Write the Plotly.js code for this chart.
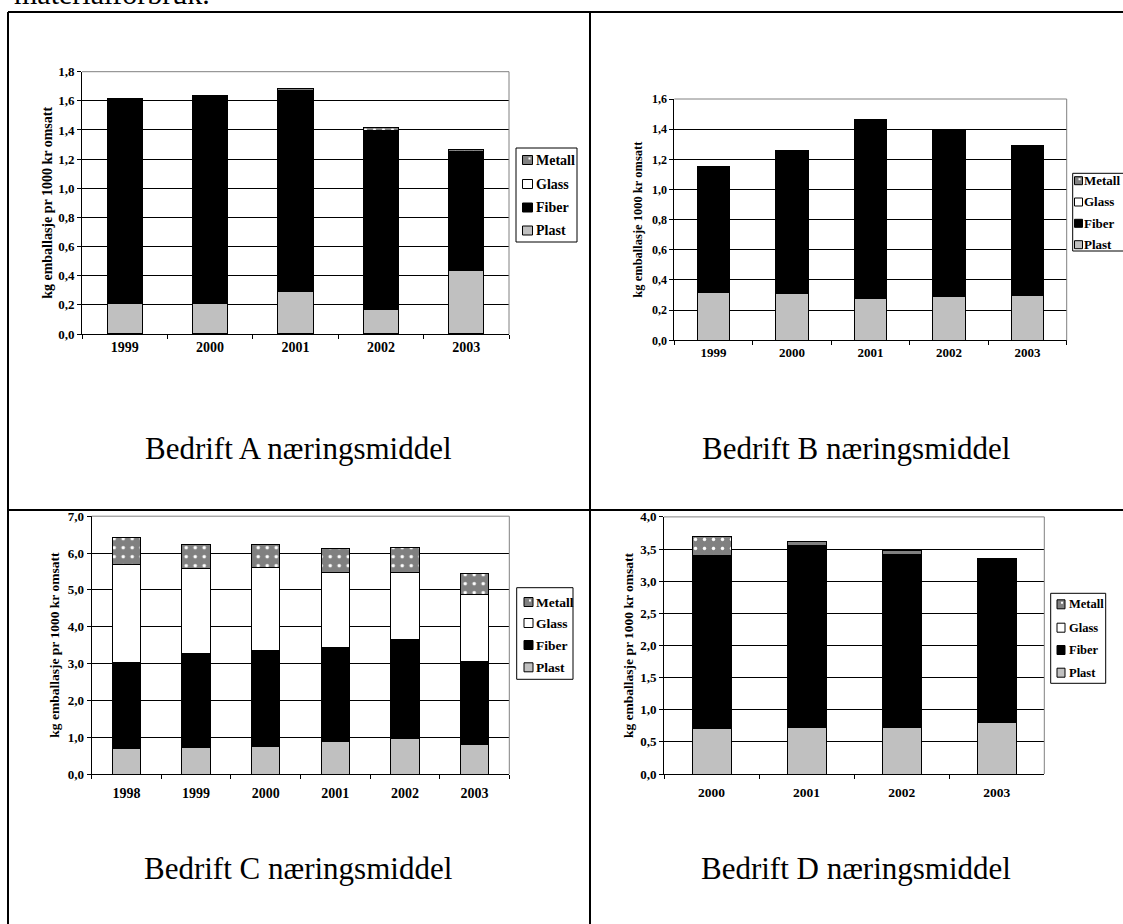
<!DOCTYPE html>
<html>
<head>
<meta charset="utf-8">
<script src="https://cdn.plot.ly/plotly-3.0.1.min.js"></script>
<style>html,body{margin:0;padding:0;background:#fff;overflow:hidden;}#chart{width:1123px;height:924px;}</style>
</head>
<body>
<div id="chart"></div>
<script>
// ---- data ----
var seriesNames = ["Plast", "Fiber", "Glass", "Metall"];
var seriesColors = ["#c0c0c0", "#000000", "#ffffff", "#808080"];

var yearsA = ["1999", "2000", "2001", "2002", "2003"];
var plastA = [0.21, 0.21, 0.29, 0.165, 0.435];
var fiberA = [1.40, 1.42, 1.38, 1.23, 0.82];
var glassA = [0, 0, 0, 0, 0];
var metallA = [0.005, 0.005, 0.015, 0.02, 0.01];

var yearsB = ["1999", "2000", "2001", "2002", "2003"];
var plastB = [0.32, 0.31, 0.28, 0.29, 0.30];
var fiberB = [0.83, 0.95, 1.185, 1.10, 0.99];
var glassB = [0, 0, 0, 0, 0];
var metallB = [0, 0, 0, 0, 0];

var yearsC = ["1998", "1999", "2000", "2001", "2002", "2003"];
var plastC = [0.69, 0.71, 0.76, 0.88, 0.97, 0.80];
var fiberC = [2.33, 2.55, 2.59, 2.56, 2.69, 2.25];
var glassC = [2.68, 2.32, 2.25, 2.04, 1.82, 1.83];
var metallC = [0.73, 0.66, 0.64, 0.64, 0.67, 0.57];

var yearsD = ["2000", "2001", "2002", "2003"];
var plastD = [0.71, 0.73, 0.72, 0.80];
var fiberD = [2.69, 2.82, 2.70, 2.55];
var glassD = [0, 0, 0, 0];
var metallD = [0.30, 0.06, 0.05, 0];

var yTitleA = "kg emballasje pr 1000 kr omsatt";
var yTitleB = "kg emballasje 1000 kr omsatt";
var captions = ["Bedrift A næringsmiddel", "Bedrift B næringsmiddel", "Bedrift C næringsmiddel", "Bedrift D næringsmiddel"];
var topText = "materialforbruk.";

// ---- helpers ----
var W = 1123, H = 924;
function px(x) { return x / W; }
function py(y) { return 1 - y / H; }
var FONT = '"Liberation Serif", "Times New Roman", serif';

function makeTraces(years, vals, xa, ya) {
  var out = [];
  for (var i = 0; i < 4; i++) {
    var marker = {color: seriesColors[i], line: {color: "#000000", width: 1}};
    if (i === 3) {
      marker.pattern = {shape: ".", fgcolor: "#ffffff", bgcolor: "#808080", size: 9, solidity: 0.12};
    }
    out.push({
      type: "bar", name: seriesNames[i], x: years, y: vals[i],
      xaxis: xa, yaxis: ya, marker: marker, showlegend: false,
      hoverinfo: "x+y+name"
    });
  }
  return out;
}

var data = []
  .concat(makeTraces(yearsA, [plastA, fiberA, glassA, metallA], "x", "y"))
  .concat(makeTraces(yearsB, [plastB, fiberB, glassB, metallB], "x2", "y2"))
  .concat(makeTraces(yearsC, [plastC, fiberC, glassC, metallC], "x3", "y3"))
  .concat(makeTraces(yearsD, [plastD, fiberD, glassD, metallD], "x4", "y4"));

function xAxis(x0, x1, anchor, fs, lblOff) {
  return {
    type: "category", domain: [px(x0), px(x1)], anchor: anchor,
    showline: true, linecolor: "#000", linewidth: 1,
    ticks: "outside", ticklen: 4, tickcolor: "#000", tickson: "boundaries",
    ticklabelstandoff: lblOff,
    showgrid: false, zeroline: false, fixedrange: true,
    tickfont: {family: FONT, size: fs, color: "#000", weight: "bold"}
  };
}
function yAxis(y0, y1, anchor, maxV, dt, title, fs, tfs, standoff) {
  return {
    domain: [py(y1), py(y0)], anchor: anchor, range: [0, maxV], dtick: dt, tick0: 0,
    tickformat: ".1f",
    showline: true, linecolor: "#000", linewidth: 1,
    ticks: "outside", ticklen: 4, tickcolor: "#000",
    showgrid: true, gridcolor: "#000", gridwidth: 1, zeroline: false, fixedrange: true,
    tickfont: {family: FONT, size: fs, color: "#000", weight: "bold"},
    title: {text: title, standoff: standoff, font: {family: FONT, size: tfs, color: "#000", weight: "bold"}}
  };
}

function frame(xr, yr) {
  return [
    {type: "line", xref: xr + " domain", yref: yr + " domain", x0: 0, x1: 1, y0: 1, y1: 1, line: {color: "#808080", width: 1}, layer: "above"},
    {type: "line", xref: xr + " domain", yref: yr + " domain", x0: 1, x1: 1, y0: 0, y1: 1, line: {color: "#808080", width: 1}, layer: "above"}
  ];
}

var border = {color: "#000", width: 2};
var shapes = [
  {type: "line", xref: "paper", yref: "paper", x0: px(8), x1: px(1123), y0: py(12), y1: py(12), line: border},
  {type: "line", xref: "paper", yref: "paper", x0: px(8), x1: px(8), y0: py(12), y1: py(930), line: border},
  {type: "line", xref: "paper", yref: "paper", x0: px(590), x1: px(590), y0: py(12), y1: py(930), line: border},
  {type: "line", xref: "paper", yref: "paper", x0: px(8), x1: px(1123), y0: py(510), y1: py(510), line: border}
].concat(frame("x", "y"), frame("x2", "y2"), frame("x3", "y3"), frame("x4", "y4"));

var annotations = [];

// Legend (Excel style): box, swatches, labels; order Metall, Glass, Fiber, Plast
function addLegend(bx0, bx1, by0, by1, swx, sww, swh, tx, ys, fs) {
  shapes.push({type: "rect", xref: "paper", yref: "paper", x0: px(bx0), x1: px(bx1), y0: py(by1), y1: py(by0),
    fillcolor: "#fff", line: {color: "#000", width: 1}, layer: "above"});
  for (var k = 0; k < 4; k++) {
    var si = 3 - k;
    var yc = ys[k];
    shapes.push({type: "rect", xref: "paper", yref: "paper", x0: px(swx), x1: px(swx + sww),
      y0: py(yc + swh / 2), y1: py(yc - swh / 2), fillcolor: seriesColors[si],
      line: {color: "#000", width: 1}, layer: "above"});
    if (si === 3) {
      shapes.push({type: "rect", xref: "paper", yref: "paper", x0: px(swx + sww - 4), x1: px(swx + sww - 2),
        y0: py(yc - 0.5), y1: py(yc - 2.5), fillcolor: "#fff", line: {width: 0}, layer: "above"});
    }
    annotations.push({text: seriesNames[si], xref: "paper", yref: "paper", x: px(tx), y: py(yc),
      xanchor: "left", yanchor: "middle", showarrow: false,
      font: {family: FONT, size: fs, color: "#000", weight: "bold"}});
  }
}
addLegend(516, 577, 148, 242, 522.5, 10, 9, 534, [160, 184, 207.5, 230.5], 14);
addLegend(1072.7, 1135, 173.3, 251, 1074.5, 8, 8, 1082, [180.7, 202, 223.3, 244.7], 13);
addLegend(516.7, 573, 587.7, 679.3, 524, 9, 9, 534, [602, 623, 645, 667.3], 13.5);
addLegend(1050.7, 1105.7, 593.3, 683.3, 1057, 8, 9, 1067, [604.3, 627.7, 650, 672.7], 12.5);

function cap(text, x, y) {
  return {text: text, xref: "paper", yref: "paper", x: px(x), y: py(y), xanchor: "center", yanchor: "middle",
    showarrow: false, font: {family: FONT, size: 31, color: "#000"}};
}
annotations.push(cap(captions[0], 298, 448), cap(captions[1], 856, 448),
  cap(captions[2], 298, 868), cap(captions[3], 856, 868));
annotations.push({text: topText, xref: "paper", yref: "paper", x: px(12), y: py(-6), xanchor: "left", yanchor: "middle",
  showarrow: false, font: {family: FONT, size: 30, color: "#000"}});

var layout = {
  width: W, height: H,
  margin: {l: 0, r: 0, t: 0, b: 0, autoexpand: false},
  paper_bgcolor: "#fff", plot_bgcolor: "rgba(0,0,0,0)",
  barmode: "stack", bargap: 0.59,
  separators: ",.",
  font: {family: FONT, color: "#000"},
  showlegend: false,
  xaxis: xAxis(82, 509, "y", 14, 0),
  yaxis: yAxis(71.7, 334, "x", 1.8, 0.2, yTitleA, 13, 14, 2),
  xaxis2: xAxis(674.3, 1066.7, "y2", 13, 0),
  yaxis2: yAxis(99, 340.3, "x2", 1.6, 0.2, yTitleB, 12, 12.5, 6),
  xaxis3: xAxis(91.7, 509.3, "y3", 14, 6),
  yaxis3: yAxis(516.2, 774, "x3", 7, 1, yTitleA, 13, 13.5, 5),
  xaxis4: xAxis(664, 1044.3, "y4", 13.5, 6),
  yaxis4: yAxis(516.9, 774, "x4", 4, 0.5, yTitleA, 13, 13.5, 3),
  shapes: shapes,
  annotations: annotations
};

Plotly.newPlot("chart", data, layout, {displayModeBar: false, staticPlot: true});
</script>
</body>
</html>
